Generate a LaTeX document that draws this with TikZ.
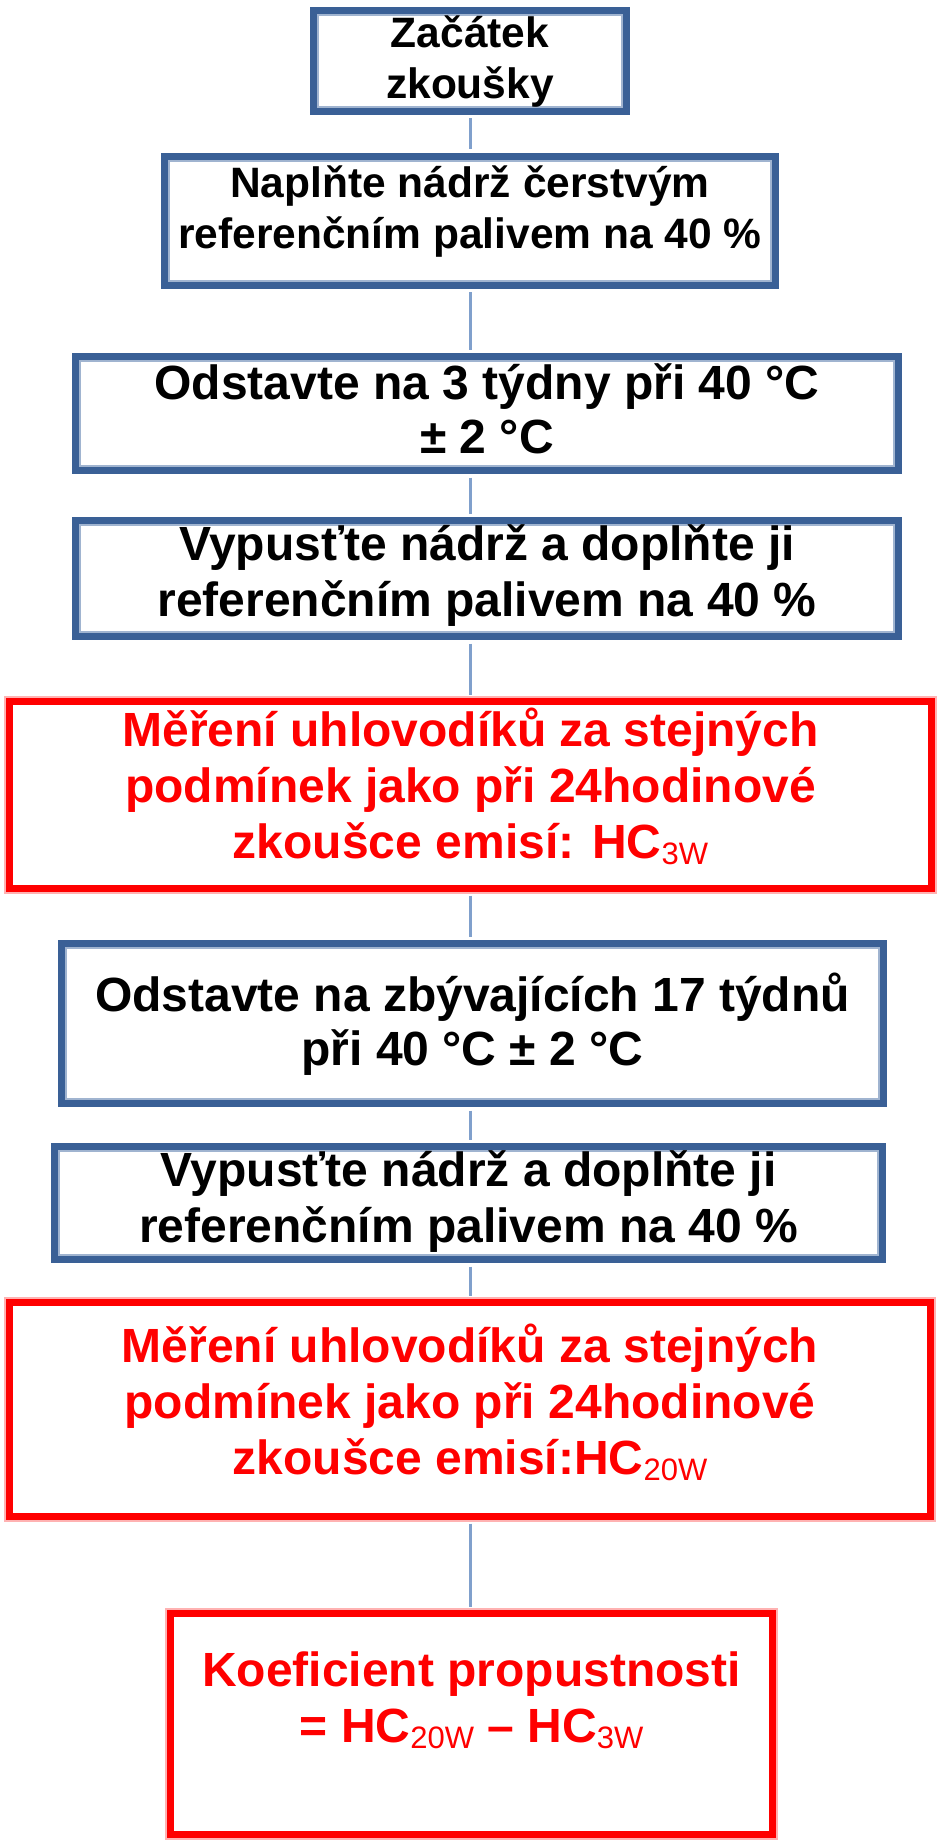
\documentclass[tikz,border=0pt]{standalone}
\usepackage{fontspec}
\setmainfont{Liberation Sans}
\definecolor{boxblue}{RGB}{58,96,150}
\definecolor{boxlight}{RGB}{160,180,208}
\definecolor{boxred}{RGB}{255,0,0}
\definecolor{linkblue}{RGB}{128,160,204}
\newcommand{\subidx}[1]{\raisebox{-6pt}{\fontsize{31}{31}\selectfont\mdseries #1}}

\begin{document}
\begin{tikzpicture}[x=1pt, y=-1pt,
    flow/.style={rectangle, fill=white, align=center, inner sep=0pt,
        font=\bfseries\fontsize{48}{56}\selectfont},
    small/.style={font=\bfseries\fontsize{42.5}{51}\selectfont},
    tight/.style={font=\bfseries\fontsize{48}{54}\selectfont},
    bluebox/.style={flow, draw=boxblue, line width=7pt,
        path picture={\draw[boxlight, line width=11pt] (path picture bounding box.south west) rectangle (path picture bounding box.north east);}},
    redbox/.style={flow, draw=boxred, line width=7pt, text=boxred,
        preaction={draw=boxred!30, line width=11pt}},
    link/.style={draw=linkblue, line width=3pt, shorten <=3.5pt, shorten >=3.5pt}]
    \useasboundingbox (0,0) rectangle (940,1843);

    % preparation
    \node[bluebox, small, minimum width=313pt, minimum height=101pt, text height=88.5pt, text depth=12.5pt]
        (start) at (470,61) {Začátek\\zkoušky};
    \node[bluebox, small, minimum width=611pt, minimum height=129pt, text height=92.5pt, text depth=36.5pt]
        (fill) at (470,221) {Naplňte nádrž čerstvým\\referenčním palivem na 40 \%};
    \node[bluebox, tight, minimum width=823pt, minimum height=114pt, text height=96.5pt, text depth=17.5pt]
        (rest1) at (487,413.5) {Odstavte na 3 týdny při 40 °C\\± 2 °C};
    \node[bluebox, minimum width=823pt, minimum height=116pt, text height=95.5pt, text depth=20.5pt]
        (drain1) at (487,578.5) {Vypusťte nádrž a doplňte ji\\referenčním palivem na 40 \%};

    % first measurement
    \node[redbox, minimum width=922pt, minimum height=187pt, text height=157pt, text depth=30pt]
        (meas1) at (470.5,795) {Měření uhlovodíků za stejných\\podmínek jako při 24hodinové\\zkoušce emisí: HC\subidx{3W}};

    % long soak
    \node[bluebox, tight, minimum width=822pt, minimum height=160pt, text height=121.5pt, text depth=38.5pt]
        (rest2) at (472.5,1023.5) {Odstavte na zbývajících 17 týdnů\\při 40 °C ± 2 °C};
    \node[bluebox, minimum width=828pt, minimum height=113pt, text height=95.5pt, text depth=17.5pt]
        (drain2) at (468.5,1203) {Vypusťte nádrž a doplňte ji\\referenčním palivem na 40 \%};

    % second measurement and result
    \node[redbox, minimum width=921pt, minimum height=214pt, text height=171.5pt, text depth=42.5pt]
        (meas2) at (470,1409.5) {Měření uhlovodíků za stejných\\podmínek jako při 24hodinové\\zkoušce emisí:HC\subidx{20W}};
    \node[redbox, minimum width=602pt, minimum height=221pt, text height=128.5pt, text depth=92.5pt]
        (coef) at (471.5,1724) {Koeficient propustnosti\\= HC\subidx{20W} – HC\subidx{3W}};

    % connectors
    \foreach \a/\b in {start/fill, fill/rest1, rest1/drain1, drain1/meas1, meas1/rest2, rest2/drain2, drain2/meas2, meas2/coef}
        \draw[link] (start.south |- \a.south) -- (start.south |- \b.north);
\end{tikzpicture}
\end{document}
